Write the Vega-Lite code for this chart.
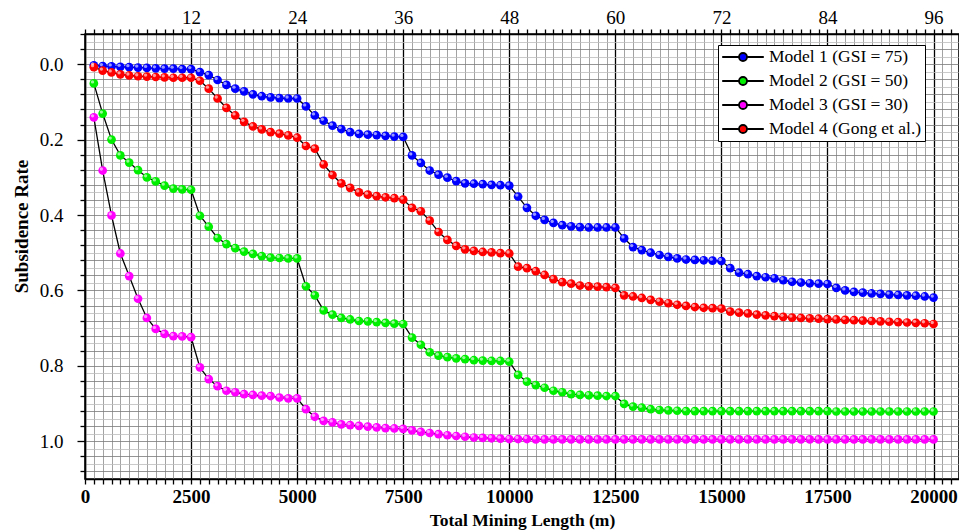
{
"$schema": "https://vega.github.io/schema/vega-lite/v6.json",
"width": 874, "height": 445,
"autosize": "none",
"padding": {"left": 85, "top": 34, "right": 0, "bottom": 52},
"background": "white",
"config": {"view": {"stroke": "#000", "strokeWidth": 1.5}, "font": "Liberation Serif"},
"data": {"values": [
{"x":208.33,"M1":0.003,"M2":0.051,"M3":0.141,"M4":0.008},
{"x":416.67,"M1":0.005,"M2":0.131,"M3":0.282,"M4":0.017},
{"x":625,"M1":0.006,"M2":0.200,"M3":0.401,"M4":0.022},
{"x":833.33,"M1":0.007,"M2":0.242,"M3":0.502,"M4":0.027},
{"x":1041.67,"M1":0.008,"M2":0.261,"M3":0.562,"M4":0.030},
{"x":1250,"M1":0.009,"M2":0.281,"M3":0.622,"M4":0.032},
{"x":1458.33,"M1":0.010,"M2":0.300,"M3":0.673,"M4":0.033},
{"x":1666.67,"M1":0.011,"M2":0.311,"M3":0.702,"M4":0.034},
{"x":1875,"M1":0.012,"M2":0.322,"M3":0.715,"M4":0.035},
{"x":2083.33,"M1":0.012,"M2":0.330,"M3":0.721,"M4":0.036},
{"x":2291.67,"M1":0.013,"M2":0.332,"M3":0.722,"M4":0.036},
{"x":2500,"M1":0.013,"M2":0.333,"M3":0.724,"M4":0.036},
{"x":2708.33,"M1":0.021,"M2":0.402,"M3":0.804,"M4":0.044},
{"x":2916.67,"M1":0.029,"M2":0.431,"M3":0.835,"M4":0.065},
{"x":3125,"M1":0.042,"M2":0.461,"M3":0.854,"M4":0.091},
{"x":3333.33,"M1":0.055,"M2":0.477,"M3":0.866,"M4":0.116},
{"x":3541.67,"M1":0.065,"M2":0.488,"M3":0.870,"M4":0.136},
{"x":3750,"M1":0.072,"M2":0.497,"M3":0.875,"M4":0.153},
{"x":3958.33,"M1":0.080,"M2":0.503,"M3":0.877,"M4":0.165},
{"x":4166.67,"M1":0.085,"M2":0.509,"M3":0.879,"M4":0.173},
{"x":4375,"M1":0.088,"M2":0.513,"M3":0.880,"M4":0.180},
{"x":4583.33,"M1":0.090,"M2":0.514,"M3":0.884,"M4":0.184},
{"x":4791.67,"M1":0.091,"M2":0.515,"M3":0.886,"M4":0.189},
{"x":5000,"M1":0.091,"M2":0.515,"M3":0.886,"M4":0.195},
{"x":5208.33,"M1":0.112,"M2":0.589,"M3":0.915,"M4":0.217},
{"x":5416.67,"M1":0.136,"M2":0.613,"M3":0.935,"M4":0.224},
{"x":5625,"M1":0.150,"M2":0.653,"M3":0.946,"M4":0.266},
{"x":5833.33,"M1":0.163,"M2":0.664,"M3":0.950,"M4":0.294},
{"x":6041.67,"M1":0.172,"M2":0.673,"M3":0.955,"M4":0.316},
{"x":6250,"M1":0.180,"M2":0.677,"M3":0.957,"M4":0.328},
{"x":6458.33,"M1":0.185,"M2":0.681,"M3":0.959,"M4":0.340},
{"x":6666.67,"M1":0.187,"M2":0.682,"M3":0.961,"M4":0.346},
{"x":6875,"M1":0.188,"M2":0.684,"M3":0.963,"M4":0.350},
{"x":7083.33,"M1":0.190,"M2":0.686,"M3":0.965,"M4":0.353},
{"x":7291.67,"M1":0.192,"M2":0.688,"M3":0.966,"M4":0.355},
{"x":7500,"M1":0.193,"M2":0.689,"M3":0.967,"M4":0.359},
{"x":7708.33,"M1":0.242,"M2":0.725,"M3":0.971,"M4":0.381},
{"x":7916.67,"M1":0.262,"M2":0.744,"M3":0.975,"M4":0.390},
{"x":8125,"M1":0.282,"M2":0.764,"M3":0.978,"M4":0.415},
{"x":8333.33,"M1":0.293,"M2":0.773,"M3":0.981,"M4":0.445},
{"x":8541.67,"M1":0.301,"M2":0.777,"M3":0.984,"M4":0.466},
{"x":8750,"M1":0.310,"M2":0.780,"M3":0.986,"M4":0.482},
{"x":8958.33,"M1":0.316,"M2":0.782,"M3":0.988,"M4":0.491},
{"x":9166.67,"M1":0.317,"M2":0.785,"M3":0.990,"M4":0.495},
{"x":9375,"M1":0.318,"M2":0.786,"M3":0.991,"M4":0.498},
{"x":9583.33,"M1":0.320,"M2":0.787,"M3":0.992,"M4":0.499},
{"x":9791.67,"M1":0.321,"M2":0.787,"M3":0.993,"M4":0.501},
{"x":10000,"M1":0.322,"M2":0.789,"M3":0.994,"M4":0.502},
{"x":10208.33,"M1":0.351,"M2":0.824,"M3":0.994,"M4":0.537},
{"x":10416.67,"M1":0.381,"M2":0.842,"M3":0.994,"M4":0.541},
{"x":10625,"M1":0.402,"M2":0.851,"M3":0.995,"M4":0.549},
{"x":10833.33,"M1":0.413,"M2":0.858,"M3":0.995,"M4":0.559},
{"x":11041.67,"M1":0.421,"M2":0.866,"M3":0.995,"M4":0.570},
{"x":11250,"M1":0.427,"M2":0.870,"M3":0.995,"M4":0.578},
{"x":11458.33,"M1":0.430,"M2":0.875,"M3":0.995,"M4":0.582},
{"x":11666.67,"M1":0.432,"M2":0.877,"M3":0.995,"M4":0.587},
{"x":11875,"M1":0.433,"M2":0.878,"M3":0.995,"M4":0.589},
{"x":12083.33,"M1":0.433,"M2":0.879,"M3":0.995,"M4":0.590},
{"x":12291.67,"M1":0.433,"M2":0.880,"M3":0.995,"M4":0.591},
{"x":12500,"M1":0.433,"M2":0.880,"M3":0.995,"M4":0.593},
{"x":12708.33,"M1":0.462,"M2":0.901,"M3":0.995,"M4":0.613},
{"x":12916.67,"M1":0.485,"M2":0.908,"M3":0.995,"M4":0.616},
{"x":13125,"M1":0.493,"M2":0.911,"M3":0.995,"M4":0.620},
{"x":13333.33,"M1":0.500,"M2":0.915,"M3":0.995,"M4":0.625},
{"x":13541.67,"M1":0.506,"M2":0.917,"M3":0.995,"M4":0.630},
{"x":13750,"M1":0.511,"M2":0.918,"M3":0.995,"M4":0.634},
{"x":13958.33,"M1":0.515,"M2":0.919,"M3":0.995,"M4":0.638},
{"x":14166.67,"M1":0.518,"M2":0.920,"M3":0.995,"M4":0.641},
{"x":14375,"M1":0.519,"M2":0.920,"M3":0.995,"M4":0.644},
{"x":14583.33,"M1":0.520,"M2":0.920,"M3":0.995,"M4":0.646},
{"x":14791.67,"M1":0.521,"M2":0.920,"M3":0.995,"M4":0.647},
{"x":15000,"M1":0.522,"M2":0.920,"M3":0.995,"M4":0.648},
{"x":15208.33,"M1":0.541,"M2":0.920,"M3":0.995,"M4":0.656},
{"x":15416.67,"M1":0.553,"M2":0.920,"M3":0.995,"M4":0.659},
{"x":15625,"M1":0.557,"M2":0.920,"M3":0.995,"M4":0.661},
{"x":15833.33,"M1":0.562,"M2":0.920,"M3":0.995,"M4":0.664},
{"x":16041.67,"M1":0.565,"M2":0.920,"M3":0.995,"M4":0.666},
{"x":16250,"M1":0.568,"M2":0.920,"M3":0.995,"M4":0.668},
{"x":16458.33,"M1":0.573,"M2":0.920,"M3":0.995,"M4":0.670},
{"x":16666.67,"M1":0.577,"M2":0.920,"M3":0.995,"M4":0.672},
{"x":16875,"M1":0.579,"M2":0.920,"M3":0.995,"M4":0.673},
{"x":17083.33,"M1":0.581,"M2":0.920,"M3":0.995,"M4":0.674},
{"x":17291.67,"M1":0.582,"M2":0.920,"M3":0.995,"M4":0.675},
{"x":17500,"M1":0.583,"M2":0.920,"M3":0.995,"M4":0.676},
{"x":17708.33,"M1":0.593,"M2":0.921,"M3":0.995,"M4":0.677},
{"x":17916.67,"M1":0.600,"M2":0.921,"M3":0.995,"M4":0.678},
{"x":18125,"M1":0.604,"M2":0.921,"M3":0.995,"M4":0.679},
{"x":18333.33,"M1":0.606,"M2":0.921,"M3":0.995,"M4":0.680},
{"x":18541.67,"M1":0.608,"M2":0.921,"M3":0.995,"M4":0.681},
{"x":18750,"M1":0.609,"M2":0.921,"M3":0.995,"M4":0.682},
{"x":18958.33,"M1":0.611,"M2":0.921,"M3":0.995,"M4":0.683},
{"x":19166.67,"M1":0.612,"M2":0.921,"M3":0.995,"M4":0.684},
{"x":19375,"M1":0.613,"M2":0.921,"M3":0.995,"M4":0.685},
{"x":19583.33,"M1":0.614,"M2":0.921,"M3":0.995,"M4":0.686},
{"x":19791.67,"M1":0.616,"M2":0.921,"M3":0.995,"M4":0.687},
{"x":20000,"M1":0.619,"M2":0.921,"M3":0.995,"M4":0.689}
]},
"transform": [{"fold": ["M1","M2","M3","M4"], "as": ["model","rate"]}],
"layer": [
{
"mark": {"type": "line", "color": "#000", "strokeWidth": 1.3},
"encoding": {
"x": {"field": "x", "type": "quantitative", "scale": {"domain": [0, 20600], "nice": false, "zero": false},
"axis": {"orient": "bottom",
"values": [0,208.33,416.67,625,833.33,1041.67,1250,1458.33,1666.67,1875,2083.33,2291.67,2500,2708.33,2916.67,3125,3333.33,3541.67,3750,3958.33,4166.67,4375,4583.33,4791.67,5000,5208.33,5416.67,5625,5833.33,6041.67,6250,6458.33,6666.67,6875,7083.33,7291.67,7500,7708.33,7916.67,8125,8333.33,8541.67,8750,8958.33,9166.67,9375,9583.33,9791.67,10000,10208.33,10416.67,10625,10833.33,11041.67,11250,11458.33,11666.67,11875,12083.33,12291.67,12500,12708.33,12916.67,13125,13333.33,13541.67,13750,13958.33,14166.67,14375,14583.33,14791.67,15000,15208.33,15416.67,15625,15833.33,16041.67,16250,16458.33,16666.67,16875,17083.33,17291.67,17500,17708.33,17916.67,18125,18333.33,18541.67,18750,18958.33,19166.67,19375,19583.33,19791.67,20000,20208.33,20416.67],
"grid": true,
"gridColor": {"condition": {"test": "abs(datum.value/2500-round(datum.value/2500))<0.001", "value": "#000"}, "value": "#8c8c8c"},
"gridWidth": {"condition": {"test": "abs(datum.value/2500-round(datum.value/2500))<0.001", "value": 1.3}, "value": 0.8},
"labelExpr": "abs(datum.value/2500-round(datum.value/2500))<0.001 ? format(datum.value,'.0f') : ''",
"labelOverlap": false, "labelFlush": false,
"labelFont": "Liberation Serif", "labelFontSize": 19, "labelFontWeight": "bold", "labelColor": "#000", "labelPadding": 3,
"tickColor": "#000", "tickSize": 5, "tickWidth": 1.3,
"domainColor": "#000", "domainWidth": 1.5,
"title": "Total Mining Length (m)", "titleFont": "Liberation Serif", "titleFontSize": 17.5, "titleFontWeight": "bold", "titleColor": "#000", "titlePadding": 5}},
"y": {"field": "rate", "type": "quantitative", "scale": {"domain": [-0.08, 1.1], "reverse": true, "nice": false, "zero": false},
"axis": {"orient": "left",
"values": [-0.08,-0.06,-0.04,-0.02,0,0.02,0.04,0.06,0.08,0.1,0.12,0.14,0.16,0.18,0.2,0.22,0.24,0.26,0.28,0.3,0.32,0.34,0.36,0.38,0.4,0.42,0.44,0.46,0.48,0.5,0.52,0.54,0.56,0.58,0.6,0.62,0.64,0.66,0.68,0.7,0.72,0.74,0.76,0.78,0.8,0.82,0.84,0.86,0.88,0.9,0.92,0.94,0.96,0.98,1,1.02,1.04,1.06,1.08,1.1],
"grid": true,
"gridColor": {"condition": {"test": "abs(datum.value/0.04-round(datum.value/0.04))<0.01", "value": "#7a7a7a"}, "value": "#bcbcbc"},
"gridWidth": 0.8,
"tickOpacity": {"condition": {"test": "abs(datum.value/0.04-round(datum.value/0.04))<0.01", "value": 1}, "value": 0},
"tickSize": {"condition": {"test": "abs(datum.value/0.2-round(datum.value/0.2))<0.01", "value": 8}, "value": 5},
"tickColor": "#000", "tickWidth": 1.3,
"labelExpr": "abs(datum.value/0.2-round(datum.value/0.2))<0.01 && datum.value>-0.01 && datum.value<1.01 ? format(datum.value,'.1f') : ''",
"labelOverlap": false, "labelFlush": false,
"labelFont": "Liberation Serif", "labelFontSize": 19, "labelColor": "#000", "labelPadding": 14,
"domainColor": "#000", "domainWidth": 1.5,
"title": "Subsidence Rate", "titleFont": "Liberation Serif", "titleFontSize": 19, "titleFontWeight": "bold", "titleColor": "#000", "titlePadding": 8, "titleY": 192}},
"detail": {"field": "model", "type": "nominal"}
}
},
{
"mark": {"type": "point", "filled": true, "size": 76, "opacity": 1},
"encoding": {
"x": {"field": "x", "type": "quantitative",
"axis": {"orient": "top",
"values": [0,208.33,416.67,625,833.33,1041.67,1250,1458.33,1666.67,1875,2083.33,2291.67,2500,2708.33,2916.67,3125,3333.33,3541.67,3750,3958.33,4166.67,4375,4583.33,4791.67,5000,5208.33,5416.67,5625,5833.33,6041.67,6250,6458.33,6666.67,6875,7083.33,7291.67,7500,7708.33,7916.67,8125,8333.33,8541.67,8750,8958.33,9166.67,9375,9583.33,9791.67,10000,10208.33,10416.67,10625,10833.33,11041.67,11250,11458.33,11666.67,11875,12083.33,12291.67,12500,12708.33,12916.67,13125,13333.33,13541.67,13750,13958.33,14166.67,14375,14583.33,14791.67,15000,15208.33,15416.67,15625,15833.33,16041.67,16250,16458.33,16666.67,16875,17083.33,17291.67,17500,17708.33,17916.67,18125,18333.33,18541.67,18750,18958.33,19166.67,19375,19583.33,19791.67,20000,20208.33,20416.67],
"grid": false,
"labelExpr": "datum.value>1 && abs(datum.value/2500-round(datum.value/2500))<0.001 ? format(datum.value/2500*12,'.0f') : ''",
"labelOverlap": false, "labelFlush": false,
"labelFont": "Liberation Serif", "labelFontSize": 19, "labelColor": "#000", "labelPadding": 2,
"tickColor": "#000", "tickSize": 5, "tickWidth": 1.3,
"domainColor": "#000", "domainWidth": 1.5, "title": null}},
"y": {"field": "rate", "type": "quantitative",
"axis": {"orient": "right", "values": [0,0.2,0.4,0.6,0.8,1], "labels": false, "grid": false, "tickColor": "#000", "tickSize": 7, "tickWidth": 1.3, "domainColor": "#000", "domainWidth": 1.5, "title": null}},
"color": {"field": "model", "type": "nominal",
"scale": {"domain": ["M1","M2","M3","M4"], "range": ["#0000ff","#00ee00","#ff00ff","#ff0000"]},
"legend": {"orient": "none", "legendX": 633, "legendY": 11, "title": null,
"labelExpr": "{'M1':'Model 1 (GSI = 75)','M2':'Model 2 (GSI = 50)','M3':'Model 3 (GSI = 30)','M4':'Model 4 (Gong et al.)'}[datum.label]",
"labelFont": "Liberation Serif", "labelFontSize": 17.5, "labelColor": "#000", "labelOffset": 17,
"strokeColor": "#000", "fillColor": "#fff", "padding": 3, "rowPadding": 6,
"symbolType": "M-2.6,0L-0.5,0M0.5,0L2.6,0M-0.5,0A0.5,0.5,0,1,1,0.5,0A0.5,0.5,0,1,1,-0.5,0Z",
"symbolSize": 256, "symbolOffset": 13, "symbolStrokeColor": "#000", "symbolStrokeWidth": 1.8, "symbolOpacity": 1}}
}
},
{
"mark": {"type": "point", "filled": true, "size": 11, "color": "#ffffff", "opacity": 0.6, "xOffset": -1.3, "yOffset": -1.5},
"encoding": {
"x": {"field": "x", "type": "quantitative", "axis": null},
"y": {"field": "rate", "type": "quantitative", "axis": null}
}
}
],
"resolve": {"axis": {"x": "independent", "y": "independent"}}
}
